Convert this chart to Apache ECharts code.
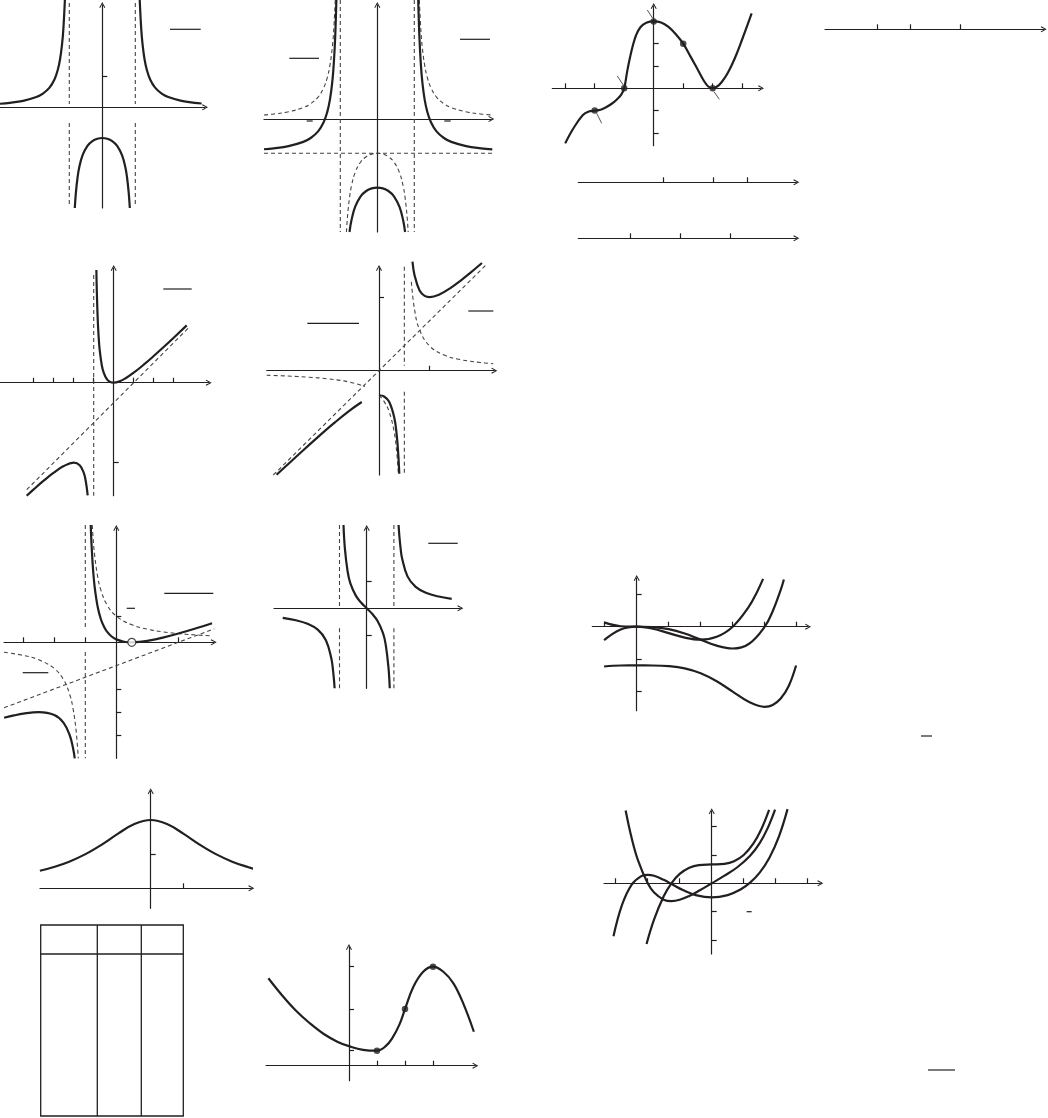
<!DOCTYPE html>
<html><head><meta charset="utf-8">
<script src="https://cdn.jsdelivr.net/npm/echarts/dist/echarts.min.js"></script>
<style>html,body{margin:0;padding:0;background:#fff}#c{width:1048px;height:1118px}</style>
</head><body><div id="c"></div>
<script>
// ---------------- DATA ----------------
// Panel A
const A_left   = [[-3.1,0.116],[-2.8,0.146],[-2.4,0.21],[-2.0,0.333],[-1.8,0.446],[-1.6,0.641],[-1.45,0.907],[-1.35,1.216],[-1.28,1.566],[-1.22,2.048],[-1.18,2.548],[-1.134,3.495]];
const A_right  = [[1.134,3.495],[1.18,2.548],[1.22,2.048],[1.28,1.566],[1.35,1.216],[1.45,0.907],[1.6,0.641],[1.8,0.446],[2.0,0.333],[2.4,0.21],[2.8,0.146],[3.01,0.124]];
const A_center = [[-0.834,-3.28],[-0.8,-2.778],[-0.75,-2.286],[-0.7,-1.961],[-0.6,-1.5625],[-0.45,-1.254],[-0.3,-1.099],[-0.15,-1.023],[0,-1],[0.15,-1.023],[0.3,-1.099],[0.45,-1.254],[0.6,-1.5625],[0.7,-1.961],[0.75,-2.286],[0.8,-2.778],[0.834,-3.28]];
const A_asym   = [[[-1,3.397],[-1,0.107]],[[-1,-0.511],[-1,-3.248]],[[1,3.397],[1,0.107]],[[1,-0.511],[1,-3.248]]];
const A_yticks = [1];
// Panel B
const B_solidL = [[-3.062,-0.881],[-2.8,-0.854],[-2.4,-0.79],[-2.0,-0.667],[-1.8,-0.554],[-1.6,-0.359],[-1.45,-0.093],[-1.35,0.216],[-1.28,0.566],[-1.22,1.048],[-1.18,1.548],[-1.14,2.338],[-1.106,3.469]];
const B_solidR = [[1.106,3.469],[1.14,2.338],[1.18,1.548],[1.22,1.048],[1.28,0.566],[1.35,0.216],[1.45,-0.093],[1.6,-0.359],[1.8,-0.554],[2.0,-0.667],[2.4,-0.79],[2.8,-0.854],[3.108,-0.885]];
const B_solidC = [[-0.751,-3.294],[-0.7,-2.961],[-0.6,-2.5625],[-0.45,-2.254],[-0.3,-2.099],[-0.15,-2.023],[0,-2],[0.15,-2.023],[0.3,-2.099],[0.45,-2.254],[0.6,-2.5625],[0.7,-2.961],[0.751,-3.294]];
const B_dashL  = [[-3.062,0.119],[-2.8,0.146],[-2.4,0.21],[-2.0,0.333],[-1.8,0.446],[-1.6,0.641],[-1.45,0.907],[-1.35,1.216],[-1.28,1.566],[-1.22,2.048],[-1.18,2.548],[-1.135,3.469]];
const B_dashR  = [[1.135,3.469],[1.18,2.548],[1.22,2.048],[1.28,1.566],[1.35,1.216],[1.45,0.907],[1.6,0.641],[1.8,0.446],[2.0,0.333],[2.4,0.21],[2.8,0.146],[3.108,0.116]];
const B_dashC  = [[-0.8345,-3.294],[-0.8,-2.778],[-0.75,-2.286],[-0.7,-1.961],[-0.6,-1.5625],[-0.45,-1.254],[-0.3,-1.099],[-0.15,-1.023],[0,-1],[0.15,-1.023],[0.3,-1.099],[0.45,-1.254],[0.6,-1.5625],[0.7,-1.961],[0.75,-2.286],[0.8,-2.778],[0.8345,-3.294]];
const B_asym   = [[[-1,3.469],[-1,-3.294]],[[1,3.469],[1,-3.294]],[[-3.062,-1],[3.108,-1]]];
// Panel C
const C_curve  = [[-3,-2.47],[-2.72,-1.79],[-2.4,-1.2],[-2.2,-1.04],[-2,-1],[-1.8,-0.96],[-1.6,-0.84],[-1.4,-0.67],[-1.25,-0.5],[-1.1,-0.28],[-1,0],[-0.9,0.75],[-0.8,1.4],[-0.7,1.95],[-0.6,2.37],[-0.45,2.74],[-0.25,2.94],[0,3],[0.25,2.95],[0.5,2.75],[0.75,2.42],[1,2],[1.25,1.42],[1.5,0.82],[1.7,0.34],[1.85,0.08],[2,0],[2.15,0.08],[2.3,0.27],[2.5,0.66],[2.75,1.35],[3,2.2],[3.32,3.36]];
const C_points = [[-2,-1],[-1,0],[0,3],[1,2],[2,0]];
const C_leaders= [[[-1.234,0.552],[-1.031,0.148]],[[-0.217,3.51],[-0.034,3.14]],[[-1.932,-1.121],[-1.763,-1.57]],[[2.044,-0.152],[2.224,-0.493]]];
const C_xticks = [-3,-2,-1,1,2,3];
const C_yticks = [-2,-1,1,2,3];
// Number lines
const N1_ticks = [-2,0,3];
const N2_ticks = [-3,0,2];
const N3_ticks = [-1,0,1];
// Panel D
const D_left   = [[-4.35,-5.65],[-4,-5.333],[-3.5,-4.9],[-3,-4.5],[-2.5,-4.167],[-2,-4],[-1.7,-4.129],[-1.5,-4.5],[-1.4,-4.9],[-1.3,-5.633]];
const D_right  = [[-0.866,5.63],[-0.85,4.817],[-0.8,3.2],[-0.75,2.25],[-0.7,1.633],[-0.6,0.9],[-0.5,0.5],[-0.35,0.188],[-0.2,0.05],[0,0],[0.3,0.069],[0.6,0.225],[1,0.5],[1.5,0.9],[2,1.333],[2.5,1.786],[3,2.25],[3.65,2.865]];
const D_asym   = [[[-4.35,-5.35],[3.78,2.78]],[[-1,5.385],[-1,-5.65]]];
const D_xticks = [-4,-3,-2,-1,1,2,3];
const D_yticks = [-4];
// Panel E
const E_solidL = [[-2.02,-2.12],[-1.8,-1.909],[-1.5,-1.625],[-1.2,-1.347],[-0.9,-1.079],[-0.6,-0.827],[-0.34,-0.638]];
const E_solidC = [[0,-0.5],[0.1,-0.525],[0.2,-0.633],[0.3,-0.95],[0.35,-1.317],[0.38,-1.703],[0.4,-2.1]];
const E_solidR = [[0.66,2.22],[0.7,1.95],[0.8,1.633],[0.9,1.525],[1,1.5],[1.2,1.557],[1.4,1.678],[1.6,1.827],[1.8,1.992],[2.03,2.193]];
const E_dashR  = [[0.638,1.81],[0.7,1.25],[0.8,0.833],[1.0,0.5],[1.3,0.3125],[1.6,0.227],[2.0,0.167],[2.254,0.1425]];
const E_dashC  = [[0,-0.5],[0.1,-0.625],[0.2,-0.833],[0.3,-1.25],[0.35,-1.667],[0.383,-2.124]];
const E_dashL  = [[-2.215,-0.0916],[-1.8,-0.1087],[-1.4,-0.1316],[-1.0,-0.1667],[-0.6,-0.227],[-0.276,-0.322]];
const E_asym   = [[[-2.085,-2.124],[2.124,2.167]],[[0.5,2.118],[0.5,0.102]],[[0.5,-0.428],[0.5,-2.124]]];
const E_xticks = [1];
const E_yticks = [1.5];
// Panel F
const F_solidR = [[-0.8255,5.034],[-0.8,4.225],[-0.75,3.125],[-0.7,2.4],[-0.6,1.5125],[-0.5,1.0],[-0.4,0.675],[-0.3,0.457],[-0.15,0.2485],[0,0.125],[0.25,0.025],[0.5,0],[0.75,0.018],[1,0.0625],[1.5,0.2],[2,0.375],[2.5,0.571],[3.09,0.82]];
const F_solidL = [[-3.62,-3.239],[-3.3,-3.139],[-3,-3.0625],[-2.5,-3.0],[-2.0,-3.125],[-1.7,-3.457],[-1.5,-4.0],[-1.4,-4.5125],[-1.34,-4.979]];
const F_dashR  = [[-0.7765,5.034],[-0.75,4.5],[-0.7,3.75],[-0.6,2.8125],[-0.5,2.25],[-0.3,1.607],[0,1.125],[0.5,0.75],[1,0.5625],[1.5,0.45],[2,0.375],[2.5,0.321],[3.1,0.274]];
const F_dashL  = [[-3.62,-0.429],[-3,-0.5625],[-2.5,-0.75],[-2,-1.125],[-1.7,-1.607],[-1.5,-2.25],[-1.4,-2.8125],[-1.3,-3.75],[-1.226,-4.979]];
const F_asym   = [[[-3.62,-2.81],[3.16,0.58]],[[-1,5.034],[-1,0.528]],[[-1,-0.416],[-1,-4.979]]];
const F_hole   = [[0.5,0]];
const F_xticks = [-3,-2,-1,2];
const F_yticks = [1.125,-2,-3,-4];
// Panel G
const G_center = [[-0.853,3.13],[-0.8,2.222],[-0.7,1.373],[-0.6,0.9375],[-0.4,0.476],[-0.2,0.208],[0,0],[0.2,-0.208],[0.4,-0.476],[0.6,-0.9375],[0.7,-1.373],[0.8,-2.222],[0.8475,-3.008]];
const G_right  = [[1.1725,3.13],[1.2,2.727],[1.25,2.222],[1.3,1.884],[1.5,1.2],[1.8,0.804],[2.2,0.573],[2.6,0.451],[3.125,0.3565]];
const G_left   = [[-3.088,-0.357],[-2.6,-0.451],[-2.2,-0.573],[-1.8,-0.804],[-1.5,-1.2],[-1.3,-1.884],[-1.25,-2.222],[-1.2,-2.727],[-1.18,-3.008]];
const G_asym   = [[[-1,3.13],[-1,0.086]],[[-1,-0.752],[-1,-3.008]],[[1,3.13],[1,0.086]],[[1,-0.752],[1,-3.008]]];
const G_yticks = [1,-1];
// Panel H
const H_f   = [[-1.02,0.133],[-0.5,0.0141],[0,0],[0.5,-0.0109],[1,-0.075],[1.5,-0.211],[2,-0.4],[2.5,-0.586],[3,-0.675],[3.5,-0.536],[4,0],[4.25,0.48],[4.5,1.139],[4.6,1.46]];
const H_df  = [[-1.02,-0.418],[-0.5,-0.0875],[0,0],[0.5,-0.0625],[1,-0.2],[1.5,-0.3375],[2,-0.4],[2.5,-0.3125],[3,0],[3.5,0.6125],[3.75,1.055],[3.95,1.482]];
const H_F   = [[-1.02,-1.233],[-0.5,-1.202],[0,-1.2],[0.5,-1.201],[1,-1.22],[1.5,-1.289],[2,-1.44],[2.5,-1.688],[3,-2.01],[3.5,-2.325],[4,-2.48],[4.25,-2.424],[4.5,-2.225],[4.75,-1.836],[4.98,-1.2]];
const H_xticks = [-1,1,2,3,4,5];
const H_yticks = [1,-1,-2];
// Panel I (three curves: hump curve, curve through origin, plateau curve)
const I_hump  = [[-3.07,-1.87],[-2.8,-0.755],[-2.5,-0.044],[-2.2,0.254],[-2.0,0.3],[-1.8,0.265],[-1.5,0.123],[-1.2,-0.062],[-0.9,-0.24],[-0.5,-0.417],[0,-0.5],[0.5,-0.416],[0.9,-0.22],[1.2,0.022],[1.5,0.377],[1.8,0.895],[2.1,1.651],[2.37,2.621]];
const I_orig  = [[-2.69,2.57],[-2.5,1.588],[-2.3,0.798],[-2.0,0],[-1.8,-0.325],[-1.5,-0.578],[-1.26,-0.63],[-1.0,-0.583],[-0.7,-0.447],[-0.4,-0.265],[0,0],[0.4,0.269],[0.8,0.567],[1.2,0.973],[1.5,1.422],[1.75,1.949],[1.98,2.601]];
const I_plat  = [[-2.036,-2.146],[-1.8,-1.277],[-1.5,-0.458],[-1.26,0],[-1.0,0.333],[-0.7,0.552],[-0.4,0.645],[0,0.667],[0.4,0.688],[0.7,0.781],[1.0,1.0],[1.3,1.399],[1.55,1.908],[1.794,2.591]];
const I_xticks = [-3,-2,-1,1,2,3];
const I_yticks = [2,1,-1,-2];
// Panel J
const J_curve = [[-3.4,0.514],[-3,0.615],[-2.5,0.78],[-2,1],[-1.5,1.28],[-1,1.6],[-0.5,1.882],[0,2],[0.5,1.882],[1,1.6],[1.5,1.28],[2,1],[2.5,0.78],[3,0.615],[3.18,0.567]];
const J_xticks = [1];
const J_yticks = [1];
// Panel K
const K_curve = [[-2.88,3.09],[-2.4,2.5],[-1.9,1.95],[-1.4,1.5],[-0.9,1.12],[-0.4,0.84],[0,0.69],[0.5,0.56],[1,0.53],[1.3,0.68],[1.55,0.98],[1.8,1.45],[2,2.0],[2.3,2.79],[2.65,3.32],[3,3.5],[3.37,3.32],[3.73,2.91],[4.08,2.2],[4.46,1.2]];
const K_points = [[1,0.53],[2,2],[3,3.5]];
const K_xticks = [1,2,3];
const K_yticks = [0.53,2,3.5];

// ---------------- LAYOUT ----------------
const INK = '#231f20';
const DASHC = '#444';
const ARROW = 'path://M5,0 L10,9 L8.6,10 L5,3.2 L1.4,10 L0,9 Z';
const PANELS = [
  {rect:[0,5,205,203],        x:[-3.1,3.112],   y:[-3.28,3.332],  xt:[],       yt:A_yticks},
  {rect:[264,5,227.3,227],    x:[-3.062,3.081], y:[-3.294,3.324], xt:[],       yt:[]},
  {rect:[552.3,6,208.7,139.7],x:[-3.437,3.637], y:[-2.574,3.691], xt:C_xticks, yt:C_yticks},
  {rect:[825,9.3,218.7,20],   x:[-5.108,7.988], y:[0,1], xt:N1_ticks, yt:[], noY:true},
  {rect:[578.3,162.3,218,20], x:[-8.108,4.946], y:[0,1], xt:N2_ticks, yt:[], noY:true},
  {rect:[578.3,218.3,218,20], x:[-2.04,2.32],   y:[0,1], xt:N3_ticks, yt:[], noY:true},
  {rect:[0,268,208.7,227.7],  x:[-5.685,4.75],  y:[-5.65,5.735],  xt:D_xticks, yt:D_yticks},
  {rect:[266.7,268,227.6,207],x:[-2.215,2.274], y:[-2.124,2.092], xt:E_xticks, yt:E_yticks},
  {rect:[4,528,209.7,230.3],  x:[-3.623,3.142], y:[-4.979,4.906], xt:F_xticks, yt:F_yticks},
  {rect:[274,528,186.3,160.3],x:[-3.408,3.441], y:[-3.008,3.019], xt:[],       yt:G_yticks},
  {rect:[592.3,578,215.7,132.7],x:[-1.3875,5.353],y:[-2.601,1.508],xt:H_xticks, yt:H_yticks},
  {rect:[604,811.3,216.3,142.7],x:[-3.366,3.394],y:[-2.498,2.544], xt:I_xticks, yt:I_yticks},
  {rect:[40,791.3,211.3,117], x:[-3.396,3.086], y:[-0.586,2.84],  xt:J_xticks, yt:J_yticks},
  {rect:[266,947,209.3,133.7],x:[-2.964,4.511], y:[-0.53,4.194],  xt:K_xticks, yt:K_yticks}
];
const MARKS = [
  [170,29.3,200.7,29.3],[289.3,58.3,319,58.3],[460,39.3,490,39.3],[306.7,121,312.7,121],[444.3,121,450.7,121],
  [163.3,289,191.7,289],[307.3,323.3,359,323.3],[468.3,311,493.3,311],
  [164.3,593.3,213.3,593.3],[22.7,672.7,48.3,672.7],[126.7,608.3,135,608.3],[428.3,543.3,457.7,543.3],
  [746.7,911.7,751.7,911.7],[921,736,932,736],[928,1070,955,1070]
];
const TABLE = {x:40.7, y:925, w:142.6, h:191, cols:[97.3,141.3], head:954};

// ---------------- BUILD ----------------
const grids=[], xAxes=[], yAxes=[], series=[];
function axis(range, ticks, show){
  return {type:'value', min:range[0], max:range[1], show:show!==false,
    axisLine:{show:true,onZero:true,symbol:['none',ARROW],symbolSize:[7,6],lineStyle:{color:INK,width:1.2}},
    axisTick:{show:ticks.length>0,inside:true,length:5,customValues:ticks,lineStyle:{color:INK,width:1.2}},
    axisLabel:{show:false}, splitLine:{show:false}};
}
PANELS.forEach(p=>{
  grids.push({left:p.rect[0],top:p.rect[1],width:p.rect[2],height:p.rect[3],containLabel:false});
  xAxes.push(Object.assign(axis(p.x,p.xt),{gridIndex:grids.length-1}));
  yAxes.push(Object.assign(axis(p.y,p.yt,!p.noY),{gridIndex:grids.length-1}));
});
function solid(g,data){series.push({type:'line',xAxisIndex:g,yAxisIndex:g,data,showSymbol:false,smooth:0.4,clip:false,silent:true,animation:false,lineStyle:{color:INK,width:2.2},z:5});}
function dashed(g,data,smooth){series.push({type:'line',xAxisIndex:g,yAxisIndex:g,data,showSymbol:false,smooth:smooth?0.4:false,clip:false,silent:true,animation:false,lineStyle:{color:DASHC,width:1.1,type:[4,3]},z:4});}
function thin(g,data){series.push({type:'line',xAxisIndex:g,yAxisIndex:g,data,showSymbol:false,clip:false,silent:true,animation:false,lineStyle:{color:'#555',width:1},z:4});}
function dots(g,data,hollow){series.push({type:'scatter',xAxisIndex:g,yAxisIndex:g,data,symbolSize:hollow?8:6.5,clip:false,silent:true,animation:false,z:6,
  itemStyle:hollow?{color:'#fff',borderColor:INK,borderWidth:1.2}:{color:INK}});}

// A
[A_left,A_right,A_center].forEach(d=>solid(0,d)); A_asym.forEach(d=>dashed(0,d));
// B
[B_dashL,B_dashR,B_dashC].forEach(d=>dashed(1,d,true)); B_asym.forEach(d=>dashed(1,d));
[B_solidL,B_solidR,B_solidC].forEach(d=>solid(1,d));
// C
solid(2,C_curve); dots(2,C_points); C_leaders.forEach(d=>thin(2,d));
// D
D_asym.forEach(d=>dashed(6,d)); solid(6,D_left); solid(6,D_right);
// E
[E_dashR,E_dashC,E_dashL].forEach(d=>dashed(7,d,true)); E_asym.forEach(d=>dashed(7,d));
[E_solidL,E_solidC,E_solidR].forEach(d=>solid(7,d));
// F
[F_dashR,F_dashL].forEach(d=>dashed(8,d,true)); F_asym.forEach(d=>dashed(8,d));
solid(8,F_solidR); solid(8,F_solidL); dots(8,F_hole,true);
// G
G_asym.forEach(d=>dashed(9,d)); [G_center,G_right,G_left].forEach(d=>solid(9,d));
// H
[H_f,H_df,H_F].forEach(d=>solid(10,d));
// I
[I_hump,I_orig,I_plat].forEach(d=>solid(11,d));
// J
solid(12,J_curve);
// K
solid(13,K_curve); dots(13,K_points);

const graphic = MARKS.map(m=>({type:'line',silent:true,shape:{x1:m[0],y1:m[1],x2:m[2],y2:m[3]},style:{stroke:INK,lineWidth:1.2}}));
graphic.push({type:'rect',silent:true,shape:{x:TABLE.x,y:TABLE.y,width:TABLE.w,height:TABLE.h},style:{fill:'none',stroke:INK,lineWidth:1.3}});
TABLE.cols.forEach(cx=>graphic.push({type:'line',silent:true,shape:{x1:cx,y1:TABLE.y,x2:cx,y2:TABLE.y+TABLE.h},style:{stroke:INK,lineWidth:1.3}}));
graphic.push({type:'line',silent:true,shape:{x1:TABLE.x,y1:TABLE.head,x2:TABLE.x+TABLE.w,y2:TABLE.head},style:{stroke:INK,lineWidth:1.3}});

const chart = echarts.init(document.getElementById('c'),null,{renderer:'canvas'});
chart.setOption({animation:false,backgroundColor:'#fff',grid:grids,xAxis:xAxes,yAxis:yAxes,series,graphic});
</script></body></html>
